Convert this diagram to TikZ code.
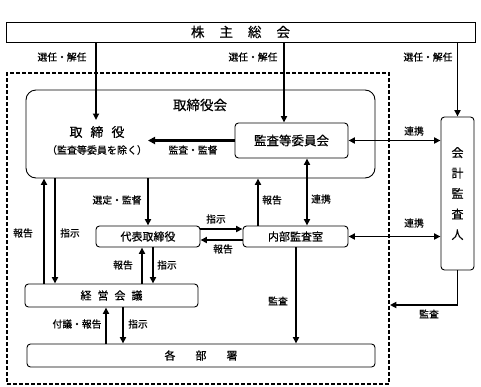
\documentclass[tikz,border=0pt]{standalone}
\usepackage{fontspec}
\setmainfont{Noto Sans CJK JP}[FakeBold=0.5]
\usetikzlibrary{arrows.meta}
\begin{document}
\begin{tikzpicture}[x=1pt,y=-1pt,
  tip/.tip={Triangle[length=6.5pt,width=6pt]},
  box/.style={draw, line width=0.9pt, rounded corners=3.5pt, inner sep=0pt, font=\fontsize{11}{11}\selectfont},
  arr/.style={line width=1.8pt, -tip},
  darr/.style={line width=1.8pt, tip-tip},
  thickarr/.style={line width=2.8pt, -{Triangle[length=7pt,width=7pt]}},
  lbl/.style={inner sep=0pt, font=\fontsize{9.8}{9.8}\selectfont}]
\useasboundingbox (0,0) rectangle (481,386);

% groups
\node[draw, line width=1.8pt, dash pattern=on 4pt off 2pt, minimum width=382pt, minimum height=311pt, inner sep=0pt] (grp) at (198,228.5) {};
\node[draw, line width=0.9pt, rounded corners=10pt, minimum width=349pt, minimum height=88pt, inner sep=0pt] (torikai) at (200.5,134) {};
\node[inner sep=0pt, font=\fontsize{13.5}{13.5}\selectfont] (torititle) at (200,105) {取締役会};

% boxes
\node[draw, line width=0.9pt, minimum width=469pt, minimum height=20pt, inner sep=0pt, font=\fontsize{13.5}{13.5}\selectfont] (gm) at (240.5,32) {株\hspace{15pt}主\hspace{15pt}総\hspace{15pt}会};
\node[inner sep=0pt, font=\fontsize{13}{13}\selectfont] (tori) at (97,132) {取\hspace{8pt}締\hspace{8pt}役};
\node[inner sep=0pt, font=\fontsize{10}{10}\selectfont] (torisub) at (97,150) {（監査等委員を除く）};
\node[box, minimum width=113pt, minimum height=35pt, font=\fontsize{12.5}{12.5}\selectfont] (kansa) at (291.5,140.5) {監査等委員会};
\node[box, minimum width=33pt, minimum height=153pt, align=center, font=\fontsize{12}{20.5}\selectfont] (kaikei) at (457.5,193.5) {会\\計\\監\\査\\人};
\node[box, minimum width=104pt, minimum height=21pt] (daihyo) at (148,236.5) {代表取締役};
\node[box, minimum width=105pt, minimum height=21pt] (naibu) at (295.5,236.5) {内部監査室};
\node[box, minimum width=173pt, minimum height=23pt] (keiei) at (111.5,295.5) {経\hspace{6pt}営\hspace{6pt}会\hspace{6pt}議};
\node[box, minimum width=348pt, minimum height=23pt] (kakubu) at (201,355.5) {各\hspace{20pt}部\hspace{20pt}署};

% helper coordinates
\coordinate (ta) at (96,120);
\coordinate (xb) at (284,0);
\coordinate (kkend) at (148,0);
\coordinate (x258) at (258,0);
\coordinate (x307) at (307,0);
\coordinate (x44) at (44,0);
\coordinate (x55) at (55,0);
\coordinate (x142) at (142,0);
\coordinate (x153) at (153,0);
\coordinate (x106) at (106,0);
\coordinate (x123) at (123,0);
\coordinate (x296) at (296,0);
\coordinate (y229) at (0,229);
\coordinate (y240) at (0,240);
\coordinate (y305) at (0,305);

% arrows from shareholders
\draw[arr] (gm.south -| ta) -- (ta);
\draw[arr] (gm.south -| xb) -- (kansa.north -| xb);
\draw[arr] (gm.south -| kaikei.north) -- (kaikei.north);

% board internal
\draw[thickarr] (kansa.west) -- (kansa.west -| kkend);
\draw[darr] (kansa.east) -- (kaikei.west |- kansa.east);

% board to executives
\draw[arr] (torikai.south -| daihyo.north) -- (daihyo.north);
\draw[arr] (naibu.north -| x258) -- (torikai.south -| x258);
\draw[darr] (kansa.south -| x307) -- (naibu.north -| x307);
\draw[arr] (daihyo.east |- y229) -- (naibu.west |- y229);
\draw[arr] (naibu.west |- y240) -- (daihyo.east |- y240);
\draw[darr] (naibu.east) -- (kaikei.west |- naibu.east);

% left side
\draw[arr] (keiei.north -| x44) -- (torikai.south -| x44);
\draw[arr] (torikai.south -| x55) -- (keiei.north -| x55);
\draw[arr] (keiei.north -| x142) -- (daihyo.south -| x142);
\draw[arr] (daihyo.south -| x153) -- (keiei.north -| x153);
\draw[arr] (kakubu.north -| x106) -- (keiei.south -| x106);
\draw[arr] (keiei.south -| x123) -- (kakubu.north -| x123);
\draw[arr] (naibu.south -| x296) -- (kakubu.north -| x296);

% auditor to group
\draw[arr] (kaikei.south) |- (grp.east |- y305);

% labels
\node[lbl] (l1) at (62,57) {選任・解任};
\node[lbl] (l2) at (253,57) {選任・解任};
\node[lbl] (l3) at (428,57) {選任・解任};
\node[lbl] (l4) at (193,150) {監査・監督};
\node[lbl] (l5) at (414,131) {連携};
\node[lbl] (l6) at (117,200) {選定・監督};
\node[lbl] (l7) at (272,200) {報告};
\node[lbl] (l8) at (321,199) {連携};
\node[lbl] (l9) at (216,219) {指示};
\node[lbl] (l10) at (223,249) {報告};
\node[lbl] (l11) at (414,223) {連携};
\node[lbl] (l12) at (23,233) {報告};
\node[lbl] (l13) at (70,233) {指示};
\node[lbl] (l14) at (123,265) {報告};
\node[lbl] (l15) at (167,265) {指示};
\node[lbl] (l16) at (77,324) {付議・報告};
\node[lbl] (l17) at (138,324) {指示};
\node[lbl] (l18) at (278,301) {監査};
\node[lbl] (l19) at (429,314) {監査};
\end{tikzpicture}
\end{document}
